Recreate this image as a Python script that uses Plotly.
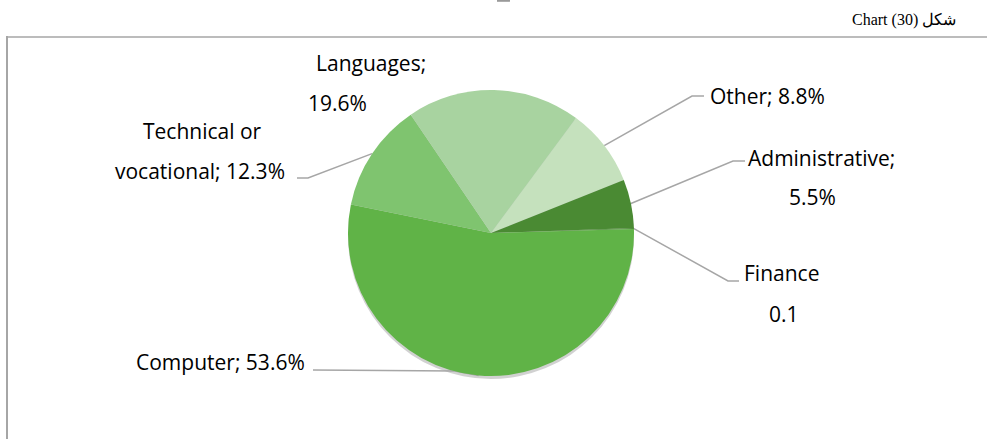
import math
import plotly.graph_objects as go

# ---- data ----
categories = ["Other", "Administrative", "Finance", "Computer", "Technical or vocational", "Languages"]
values = [8.8, 5.5, 0.1, 53.6, 12.3, 19.6]
label_line1 = ["Other; 8.8%", "Administrative;", "Finance", "Computer; 53.6%", "Technical or", "Languages;"]
label_line2 = ["", "5.5%", "0.1", "", "vocational; 12.3%", "19.6%"]
title_text = "Chart (30) شكل"

# ---- style ----
colors = ["#c5e1bd", "#4a8a33", "#4a8a33", "#60b347", "#7fc46f", "#a8d3a0"]
W, H = 987, 439
CX, CY, R = 491, 233, 143
ROT = 36.5
LINE_COL = "#a6a6a6"
FONT = "Open Sans, Noto Sans, sans-serif"
FS = 21

def px(x):
    return x / W

def py(y):
    return 1 - y / H

fig = go.Figure(go.Pie(
    labels=categories, values=values, sort=False, direction="clockwise",
    rotation=ROT, textinfo="none", hoverinfo="skip",
    marker=dict(colors=colors, line=dict(width=0)),
    domain=dict(x=[px(CX - R), px(CX + R)], y=[py(CY + R), py(CY - R)]),
    showlegend=False,
))

# slice mid-angle edge points (from data)
total = sum(values)
mids = []
cum = 0
for v in values:
    a = ROT + 360 * (cum + v / 2) / total
    cum += v
    rad = math.radians(a)
    mids.append((CX + R * math.sin(rad), CY - R * math.cos(rad)))

# leader line elbows (layout): (elbow x, elbow y, end x)
leaders = {
    0: (692, 96, 704),
    1: (733, 161, 745),
    2: (728, 281, 739),
    3: (455, 371, 313),
    4: (308, 178, 297),
}
shapes = []
# soft shadow
shapes.append(dict(type="circle", xref="paper", yref="paper",
                   x0=px(CX - R), x1=px(CX + R), y0=py(CY + R + 3), y1=py(CY - R + 3),
                   fillcolor="rgba(0,0,0,0.18)", line=dict(width=0), layer="below"))
for i, (ex, ey, endx) in leaders.items():
    sx, sy = mids[i]
    if i == 3:
        path = f"M {px(sx)} {py(sy)} L {px(ex)} {py(ey)} L {px(endx)} {py(370)}"
    else:
        path = f"M {px(sx)} {py(sy)} L {px(ex)} {py(ey)} L {px(endx)} {py(ey)}"
    shapes.append(dict(type="path", xref="paper", yref="paper", path=path,
                       line=dict(color=LINE_COL, width=1.5), layer="below"))
# frame
shapes.append(dict(type="line", xref="paper", yref="paper", x0=px(6), x1=1, y0=py(37), y1=py(37),
                   line=dict(color=LINE_COL, width=1.5)))
shapes.append(dict(type="line", xref="paper", yref="paper", x0=px(7), x1=px(7), y0=py(36), y1=0,
                   line=dict(color=LINE_COL, width=2)))
shapes.append(dict(type="line", xref="paper", yref="paper", x0=px(497), x1=px(510), y0=py(0.8), y1=py(0.8),
                   line=dict(color="#9a9a9a", width=2)))

# label positions (layout): (x, y, xanchor) for line1 and line2
pos1 = [(708, 96, "left"), (821, 158, "center"), (781, 273, "center"), (134, 362, "left"), (202, 131, "center"), (371, 63, "center")]
pos2 = [None, (812, 197, "center"), (784, 314, "center"), None, (200, 171, "center"), (337, 103, "center")]

ann = []
for i in range(len(categories)):
    x, y, xa = pos1[i]
    ann.append(dict(text=label_line1[i], x=px(x), y=py(y), xref="paper", yref="paper",
                    xanchor=xa, yanchor="middle", showarrow=False,
                    font=dict(family=FONT, size=FS, color="#000000")))
    if pos2[i] and label_line2[i]:
        x, y, xa = pos2[i]
        ann.append(dict(text=label_line2[i], x=px(x), y=py(y), xref="paper", yref="paper",
                        xanchor=xa, yanchor="middle", showarrow=False,
                        font=dict(family=FONT, size=FS, color="#000000")))
ann.append(dict(text=title_text, x=px(958), y=py(20), xref="paper", yref="paper",
                xanchor="right", yanchor="middle", showarrow=False,
                font=dict(family="Liberation Serif, Times New Roman, serif", size=16, color="#000000")))

fig.update_layout(width=W, height=H, margin=dict(l=0, r=0, t=0, b=0),
                  paper_bgcolor="white", plot_bgcolor="white",
                  shapes=shapes, annotations=ann)
fig.write_html("out.html", config={"displayModeBar": False},
               post_script="document.body.style.margin='0';document.body.style.overflow='hidden';")
